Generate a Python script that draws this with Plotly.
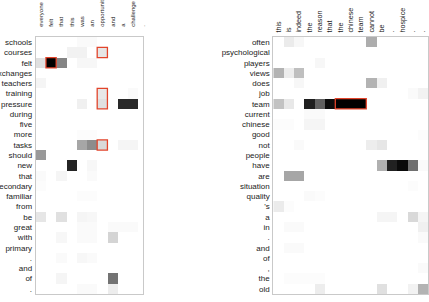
import plotly.graph_objects as go

# ---------------- data ----------------
left_cols = ["everyone", "felt", "that", "this", "was", "an", "opportunity", "and", "a", "challenge", "."]
left_rows = ["schools", "courses", "felt", "exchanges", "teachers", "training", "pressure", "during", "five",
             "more", "tasks", "should", "new", "that", "secondary", "familiar", "from", "be", "great", "with",
             "primary", ".", "and", "of", "."]
left_vals = [
    [0, 0, 0, 0, 0.02, 0.02, 0, 0, 0, 0, 0],
    [0, 0, 0, 0.05, 0.05, 0, 0.10, 0, 0, 0, 0],
    [0.12, 1.0, 0.48, 0, 0.03, 0.03, 0, 0, 0, 0, 0],
    [0, 0, 0, 0, 0, 0, 0, 0, 0, 0, 0],
    [0.04, 0, 0, 0, 0, 0, 0, 0, 0, 0, 0],
    [0, 0, 0, 0, 0, 0, 0.09, 0, 0, 0.02, 0],
    [0, 0, 0, 0, 0.06, 0, 0.12, 0, 0.84, 0.84, 0],
    [0, 0, 0, 0, 0, 0, 0, 0, 0, 0, 0],
    [0, 0, 0, 0, 0, 0, 0, 0, 0, 0, 0],
    [0, 0, 0, 0, 0.01, 0.01, 0, 0, 0, 0, 0],
    [0, 0, 0, 0, 0.35, 0.45, 0.15, 0, 0.04, 0.04, 0],
    [0.40, 0, 0, 0, 0, 0, 0, 0, 0, 0, 0],
    [0, 0, 0, 0.86, 0, 0.03, 0, 0, 0, 0, 0],
    [0.02, 0, 0.04, 0, 0, 0.02, 0, 0, 0, 0, 0],
    [0.01, 0, 0, 0, 0, 0, 0, 0, 0, 0, 0],
    [0, 0, 0, 0, 0.01, 0.01, 0, 0, 0, 0, 0],
    [0, 0, 0, 0, 0, 0, 0, 0, 0, 0, 0],
    [0.10, 0, 0.12, 0, 0.04, 0.03, 0, 0, 0, 0, 0],
    [0, 0, 0, 0, 0.02, 0.02, 0, 0.02, 0.02, 0.02, 0],
    [0, 0, 0.03, 0, 0.02, 0.02, 0, 0.17, 0, 0, 0],
    [0, 0, 0, 0, 0, 0, 0, 0, 0, 0, 0],
    [0, 0, 0.02, 0, 0.03, 0.02, 0, 0, 0, 0, 0],
    [0, 0, 0, 0, 0, 0, 0, 0, 0, 0, 0],
    [0, 0, 0.04, 0, 0, 0, 0, 0.55, 0, 0, 0],
    [0, 0, 0, 0, 0.02, 0.02, 0, 0.07, 0, 0, 0],
]
# highlighted blocks: (first row, last row, first col, last col)
left_boxes = [(2, 2, 1, 1), (1, 1, 6, 6), (5, 6, 6, 6), (10, 10, 6, 6)]

right_cols = ["this", "is", "indeed", "the", "reason", "that", "the", "chinese", "team", "cannot", "be", ".",
              "hospice", ".", "."]
right_rows = ["often", "psychological", "players", "views", "does", "job", "team", "current", "chinese", "good",
              "not", "people", "have", "are", "situation", "quality", "'s", "a", "in", ".", "and", "of", ",",
              "the", "old"]
right_vals = [
    [0, 0.08, 0.03, 0, 0, 0, 0, 0, 0, 0.32, 0, 0, 0, 0, 0],
    [0, 0, 0, 0, 0, 0, 0, 0, 0, 0, 0, 0, 0, 0, 0],
    [0, 0, 0, 0, 0.03, 0, 0, 0, 0, 0, 0, 0, 0, 0, 0],
    [0.30, 0.07, 0.25, 0, 0, 0, 0, 0, 0, 0, 0, 0, 0, 0, 0],
    [0, 0, 0.03, 0, 0, 0, 0, 0, 0, 0.30, 0.06, 0, 0, 0, 0],
    [0, 0, 0, 0, 0, 0, 0, 0, 0, 0, 0, 0, 0, 0.02, 0.05],
    [0.24, 0.09, 0, 0.88, 0.62, 0.95, 1.0, 1.0, 1.0, 0, 0, 0, 0, 0, 0],
    [0, 0, 0, 0.02, 0.02, 0, 0, 0, 0, 0, 0, 0, 0, 0, 0],
    [0.01, 0.01, 0, 0.04, 0.04, 0, 0, 0, 0, 0, 0, 0, 0, 0, 0],
    [0, 0, 0, 0, 0, 0, 0, 0, 0, 0, 0, 0, 0, 0, 0.01],
    [0, 0, 0.02, 0, 0, 0, 0, 0, 0, 0.07, 0.10, 0, 0, 0, 0],
    [0, 0, 0, 0, 0, 0, 0, 0, 0, 0, 0, 0, 0, 0, 0],
    [0, 0, 0, 0, 0, 0, 0, 0, 0, 0, 0.31, 0.87, 0.96, 0.56, 0.02],
    [0, 0.35, 0.35, 0, 0, 0, 0, 0, 0, 0, 0, 0, 0, 0, 0],
    [0, 0, 0, 0, 0, 0, 0, 0, 0, 0, 0, 0, 0, 0.01, 0],
    [0, 0, 0, 0.02, 0.01, 0, 0, 0, 0, 0, 0, 0, 0, 0, 0],
    [0.08, 0.01, 0, 0, 0, 0, 0, 0, 0, 0, 0, 0, 0, 0, 0],
    [0, 0, 0, 0, 0, 0, 0, 0, 0, 0, 0.04, 0.04, 0, 0.15, 0.04],
    [0, 0.02, 0.02, 0, 0, 0, 0, 0, 0, 0, 0, 0, 0, 0, 0.06],
    [0, 0, 0, 0, 0, 0, 0, 0, 0, 0, 0, 0, 0, 0, 0.02],
    [0, 0.02, 0.02, 0, 0, 0, 0, 0, 0, 0, 0, 0, 0, 0, 0],
    [0, 0, 0, 0, 0, 0, 0, 0, 0, 0, 0, 0, 0, 0, 0],
    [0, 0, 0, 0, 0, 0, 0, 0, 0, 0, 0, 0, 0, 0, 0.02],
    [0, 0.01, 0.01, 0.01, 0.01, 0, 0, 0, 0, 0, 0, 0, 0, 0, 0],
    [0, 0, 0, 0, 0.07, 0, 0, 0, 0, 0, 0.12, 0, 0, 0.05, 0.30],
]
right_boxes = [(6, 6, 6, 8)]

# ---------------- figure ----------------
W, H = 429, 302
GREY = [[0, "#ffffff"], [1, "#000000"]]
BOX = "#e2442b"
FRAME = "#c9c9c9"
FONT = "Liberation Sans"

fig = go.Figure()

panels = [
    (left_cols, left_rows, left_vals, left_boxes, "x", "y"),
    (right_cols, right_rows, right_vals, right_boxes, "x2", "y2"),
]
for cols, rows, vals, boxes, xa, ya in panels:
    fig.add_trace(go.Heatmap(
        z=vals, x=list(range(len(cols))), y=list(range(len(rows))),
        colorscale=GREY, zmin=0, zmax=1, showscale=False,
        xaxis=xa, yaxis=ya, hoverinfo="skip",
    ))
    for r0, r1, c0, c1 in boxes:
        fig.add_shape(type="rect", xref=xa, yref=ya,
                      x0=c0 - 0.5, x1=c1 + 0.5, y0=r0 - 0.5, y1=r1 + 0.5,
                      line=dict(color=BOX, width=1.3), fillcolor="rgba(0,0,0,0)")

y_dom = [1 - 294 / H, 1 - 37 / H]

def xaxis(cols, dom, rng, standoff, size):
    return dict(domain=dom, range=rng, side="top", tickangle=-90,
                tickmode="array", tickvals=list(range(len(cols))), ticktext=cols,
                tickfont=dict(family=FONT, size=size, color="#222"),
                ticks="", ticklabelstandoff=standoff,
                showgrid=False, zeroline=False, showline=True, mirror=True,
                linecolor=FRAME, linewidth=1, automargin=False, fixedrange=True)

def yaxis(rows, anchor):
    return dict(domain=y_dom, range=[len(rows) - 0.5, -0.5], anchor=anchor,
                tickmode="array", tickvals=list(range(len(rows))), ticktext=rows,
                tickfont=dict(family=FONT, size=8, color="#222"),
                ticks="", ticklabelstandoff=1,
                showgrid=False, zeroline=False, showline=True, mirror=True,
                linecolor=FRAME, linewidth=1, automargin=False, fixedrange=True)

fig.update_layout(
    width=W, height=H,
    margin=dict(l=0, r=0, t=0, b=0),
    template="none",
    paper_bgcolor="white", plot_bgcolor="white",
    showlegend=False,
    xaxis=dict(**xaxis(left_cols, [35.7 / W, 143.3 / W], [-0.5, 10.0], 8, 6.0), anchor="y"),
    yaxis=yaxis(left_rows, "x"),
    xaxis2=dict(**xaxis(right_cols, [273.3 / W, 428.3 / W], [-0.5, 14.5], 2, 7.2), anchor="y2"),
    yaxis2=yaxis(right_rows, "x2"),
)

fig.write_html("out.html")
